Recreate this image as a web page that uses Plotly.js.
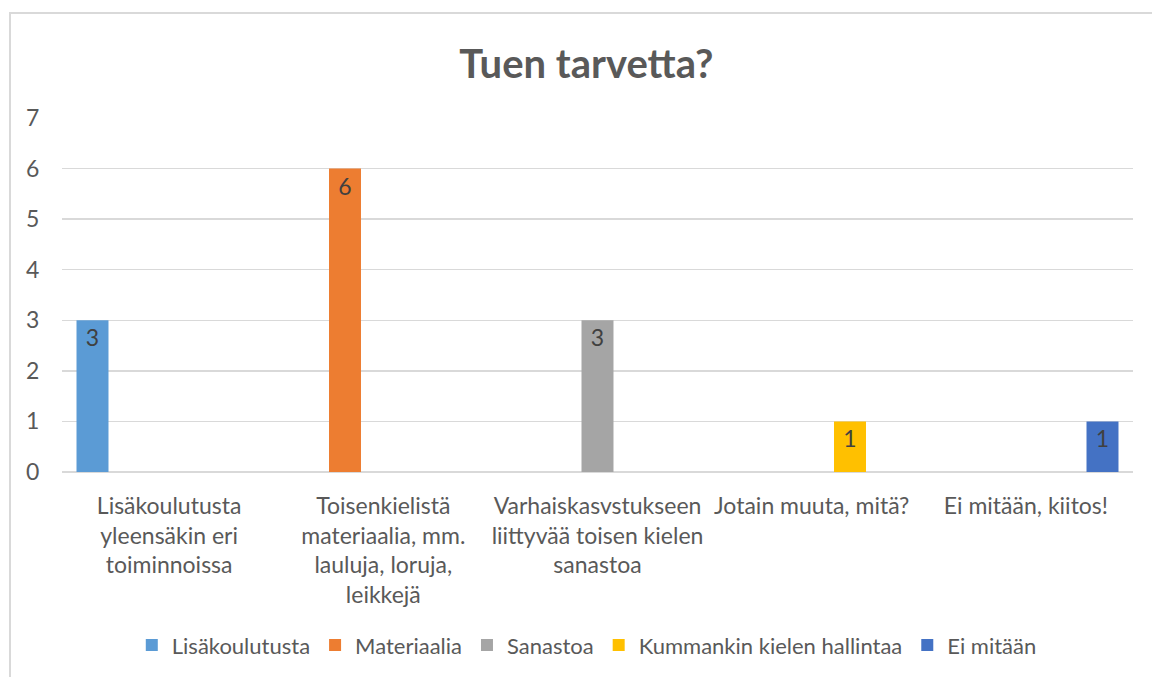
<!DOCTYPE html>
<html>
<head>
<meta charset="utf-8">
<script src="https://cdn.plot.ly/plotly-3.0.1.min.js"></script>
<style>
  html, body { margin: 0; padding: 0; background: #ffffff; overflow: hidden; }
  #chart { position: absolute; left: 0; top: 0; width: 1152px; height: 677px; }
  #frame { position: absolute; left: 9px; top: 12px; width: 1300px; height: 800px;
           border-left: 2px solid #d9d9d9; border-top: 2px solid #d9d9d9; pointer-events: none; }
</style>
</head>
<body>
<div id="chart"></div>
<div id="frame"></div>
<script>
// ---- data ----
const categories = [
  "Lisäkoulutusta<br>yleensäkin eri<br>toiminnoissa",
  "Toisenkielistä<br>materiaalia, mm.<br>lauluja, loruja,<br>leikkejä",
  "Varhaiskasvstukseen<br>liittyvää toisen kielen<br>sanastoa",
  "Jotain muuta, mitä?",
  "Ei mitään, kiitos!"
];
const seriesNames = ["Lisäkoulutusta", "Materiaalia", "Sanastoa", "Kummankin kielen hallintaa", "Ei mitään"];
const lisakoulutusta = [3, null, null, null, null];
const materiaalia    = [null, 6, null, null, null];
const sanastoa       = [null, null, 3, null, null];
const kummankin      = [null, null, null, 1, null];
const eiMitaan       = [null, null, null, null, 1];
const seriesValues = [lisakoulutusta, materiaalia, sanastoa, kummankin, eiMitaan];
const yTicks = [0, 1, 2, 3, 4, 5, 6, 7];

// ---- styles ----
const colors = ["#5b9bd5", "#ed7d31", "#a5a5a5", "#ffc000", "#4472c4"];
const FONT = "Lato, 'Open Sans', sans-serif";

const traces = seriesValues.map((vals, i) => ({
  type: "bar",
  name: seriesNames[i],
  x: categories,
  y: vals,
  marker: { color: colors[i] },
  text: vals.map(v => v === null ? "" : String(v)),
  textposition: "inside",
  insidetextanchor: "end",
  textangle: 0,
  textfont: { family: FONT, size: 23, color: "#404040" },
  hoverinfo: "x+y+name"
}));

const layout = {
  width: 1152,
  height: 677,
  paper_bgcolor: "#ffffff",
  plot_bgcolor: "#ffffff",
  font: { family: FONT, size: 22, color: "#595959" },
  margin: { l: 62, r: 19, t: 118, b: 204 },
  title: {
    text: "<b>Tuen tarvetta?</b>",
    font: { family: FONT, size: 40, color: "#595959" },
    x: 0.509, xanchor: "center",
    y: 0.905, yanchor: "middle"
  },
  barmode: "group",
  bargap: 0.106,
  bargroupgap: 0.165,
  xaxis: {
    type: "category",
    tickvals: categories,
    ticktext: categories,
    showgrid: false,
    showline: false,
    ticks: "outside",
    ticklen: 13,
    tickcolor: "rgba(0,0,0,0)",
    tickfont: { family: FONT, size: 23, color: "#595959" },
    fixedrange: true
  },
  yaxis: {
    range: [0, 7],
    tickvals: yTicks,
    ticktext: yTicks.map(String),
    showgrid: true,
    gridcolor: "#d9d9d9",
    gridwidth: 1.5,
    zeroline: true,
    zerolinecolor: "#d9d9d9",
    zerolinewidth: 1.5,
    showline: false,
    ticks: "outside",
    ticklen: 17,
    tickcolor: "rgba(0,0,0,0)",
    tickfont: { family: FONT, size: 23, color: "#595959" },
    fixedrange: true
  },
  showlegend: true,
  legend: {
    orientation: "h",
    x: 0.49, xanchor: "center",
    y: -0.485, yanchor: "middle",
    font: { family: FONT, size: 22, color: "#595959" },
    itemwidth: 30,
    traceorder: "normal"
  }
};

Plotly.newPlot("chart", traces, layout, { displayModeBar: false, staticPlot: true });
</script>
</body>
</html>
